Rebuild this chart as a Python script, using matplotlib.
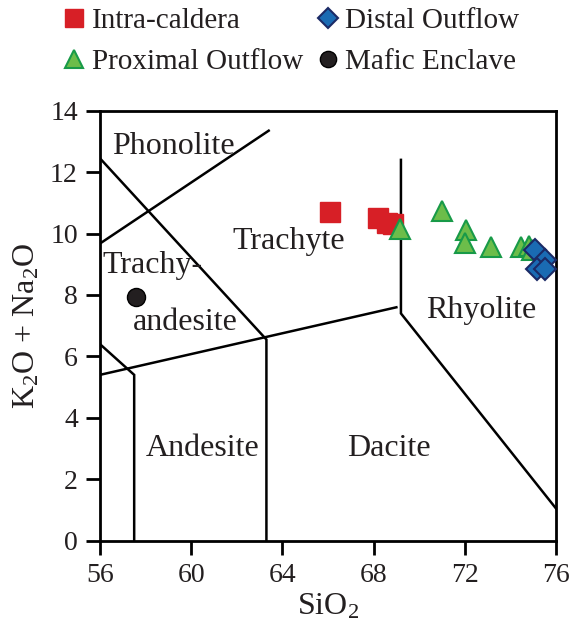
import matplotlib
matplotlib.use("Agg")
import matplotlib.pyplot as plt

plt.rcParams['font.family'] = ['Liberation Serif', 'DejaVu Serif']
plt.rcParams['mathtext.fontset'] = 'custom'
plt.rcParams['mathtext.rm'] = 'Liberation Serif'
plt.rcParams['mathtext.it'] = 'Liberation Serif:italic'

# sample compositions (SiO2 wt%, total alkalis wt%)
intra_sio2 = [66.1, 68.2, 68.6, 68.85]
intra_alk = [10.7, 10.5, 10.35, 10.3]

prox_sio2 = [69.15, 71.0, 72.05, 72.0, 73.15, 74.45, 74.8, 74.95]
prox_alk = [10.15, 10.75, 10.1, 9.7, 9.55, 9.55, 9.6, 9.45]

distal_sio2 = [75.1, 75.5, 75.15, 75.5]
distal_alk = [9.45, 9.15, 8.85, 8.85]

mafic_sio2 = [57.6]
mafic_alk = [7.95]

# TAS field boundaries, one polyline each
boundaries = [
    ([56.05, 63.4], [9.7, 13.35]),
    ([56.0, 63.3, 63.3], [12.45, 6.55, 0.0]),
    ([56.0, 69.0], [5.4, 7.6]),
    ([69.2, 69.2, 76.0], [12.4, 7.4, 1.05]),
    ([56.0, 57.5, 57.5], [6.4, 5.4, 0.0]),
]

field_names = ["Phonolite", "Trachyte", "Trachy-", "andesite",
               "Rhyolite", "Andesite", "Dacite"]
field_x = [59.2, 64.3, 58.3, 59.75, 72.7, 60.5, 68.65]
field_y = [12.85, 9.75, 8.95, 7.1, 7.5, 3.0, 3.0]

fig = plt.figure(figsize=(5.7, 6.28), dpi=100)
ax = fig.add_axes([0.1754, 0.139, 0.8, 0.6847])

for bx, by in boundaries:
    ax.plot(bx, by, color='black', lw=1.8, solid_joinstyle='miter', zorder=2)

for name, fx, fy in zip(field_names, field_x, field_y):
    ax.text(fx, fy, name, fontsize=23, ha='center', va='center',
            color='#231f20', zorder=3)

ax.plot(intra_sio2, intra_alk, 's', ms=14.5, mfc='#d71f26', mec='#d71f26',
        mew=1, label='Intra-caldera', zorder=4)
ax.plot(prox_sio2, prox_alk, '^', ms=15, mfc='#6cbd4a', mec='#189a48',
        mew=1.5, label='Proximal Outflow', zorder=5)
ax.plot(distal_sio2, distal_alk, 'D', ms=11, mfc='#1a6bb3', mec='#1b2a66',
        mew=1.5, label='Distal Outflow', zorder=6)
ax.plot(mafic_sio2, mafic_alk, 'o', ms=13, mfc='#231f20', mec='black',
        mew=1, label='Mafic Enclave', zorder=4)

ax.set_xlim(56, 76)
ax.set_ylim(0, 14)
ax.set_xticks([56, 60, 64, 68, 72, 76])
ax.set_yticks(range(0, 15, 2))
ax.tick_params(direction='out', length=10, width=2, labelsize=20,
               colors='black', labelcolor='#231f20', pad=6)
for sp in ax.spines.values():
    sp.set_linewidth(2)

ax.set_xlabel(r'SiO$_2$', fontsize=23, color='#231f20', labelpad=3)
ax.set_ylabel(r'K$_2$O + Na$_2$O', fontsize=23, color='#231f20', labelpad=6)

fig.legend(loc='upper left', bbox_to_anchor=(0.105, 0.988), ncol=2,
           frameon=False, fontsize=21, handletextpad=0.1, borderpad=0,
           borderaxespad=0, columnspacing=0.35, labelspacing=0.5,
           handlelength=1.0, markerscale=0.9, labelcolor='#231f20')

fig.savefig('out.png', dpi=100)
